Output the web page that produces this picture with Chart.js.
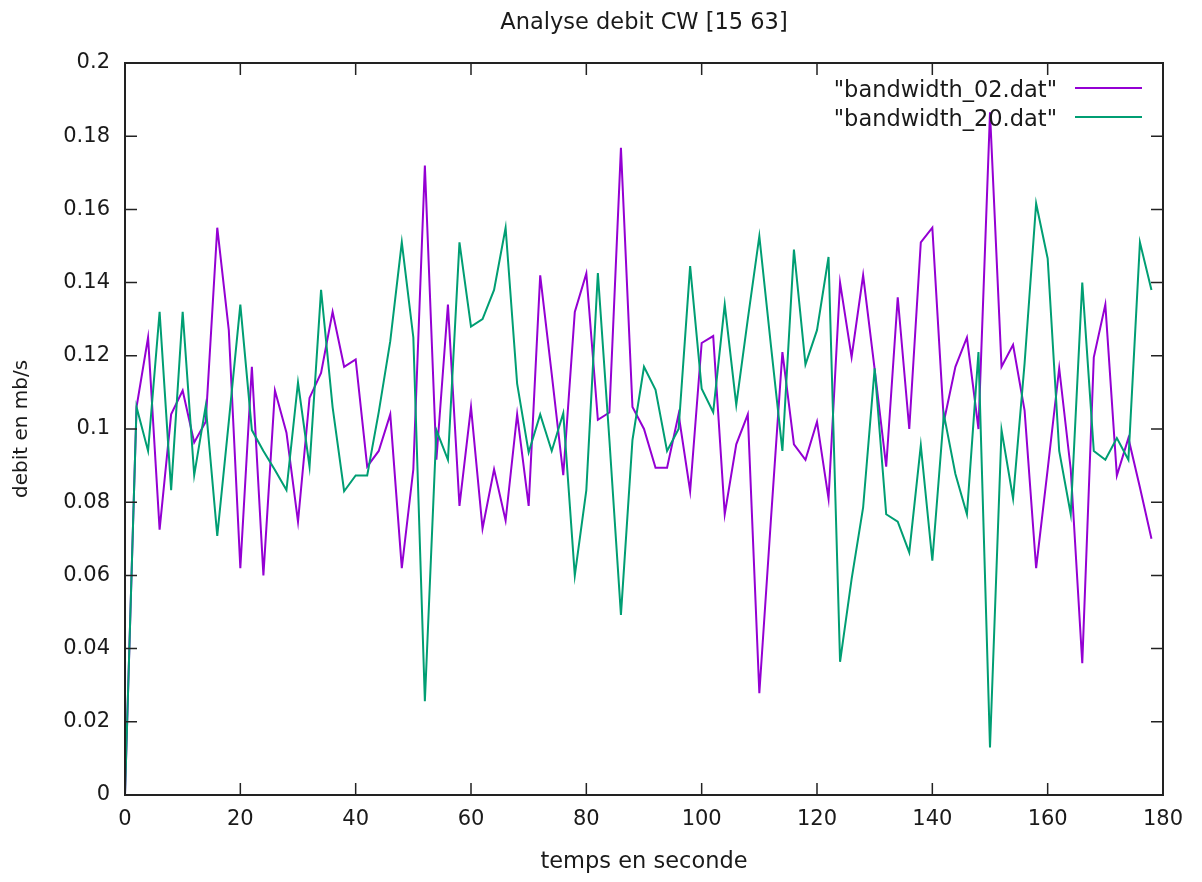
<!DOCTYPE html>
<html>
<head>
<meta charset="utf-8">
<title>Analyse debit CW [15 63]</title>
<script src="https://cdn.jsdelivr.net/npm/chart.js@4"></script>
<style>
  html, body { margin: 0; padding: 0; background: #fff; }
</style>
</head>
<body>
<canvas id="chart" width="1202" height="882"></canvas>
<script>
const chartTitle = 'Analyse debit CW [15 63]';
const xTitle = 'temps en seconde';
const yTitle = 'debit en mb/s';
const seriesNames = ['"bandwidth_02.dat"', '"bandwidth_20.dat"'];
const seriesColors = ['#9400d3', '#009e73'];

// seconds
const timeSec = [
    0, 2, 4, 6, 8, 10, 12, 14, 16, 18,
    20, 22, 24, 26, 28, 30, 32, 34, 36, 38,
    40, 42, 44, 46, 48, 50, 52, 54, 56, 58,
    60, 62, 64, 66, 68, 70, 72, 74, 76, 78,
    80, 82, 84, 86, 88, 90, 92, 94, 96, 98,
    100, 102, 104, 106, 108, 110, 112, 114, 116, 118,
    120, 122, 124, 126, 128, 130, 132, 134, 136, 138,
    140, 142, 144, 146, 148, 150, 152, 154, 156, 158,
    160, 162, 164, 166, 168, 170, 172, 174, 176, 178
];

// mb/s
const bandwidth02 = [
    0, 0.106, 0.125, 0.0725, 0.104, 0.1105, 0.0963, 0.102, 0.155, 0.127,
    0.062, 0.117, 0.060, 0.1105, 0.099, 0.0747, 0.1085, 0.1153, 0.132, 0.117,
    0.119, 0.0897, 0.094, 0.104, 0.062, 0.089, 0.172, 0.0916, 0.134, 0.079,
    0.106, 0.0728, 0.089, 0.075, 0.104, 0.079, 0.142, 0.115, 0.0874, 0.132,
    0.1425, 0.1025, 0.1045, 0.1768, 0.106, 0.100, 0.0894, 0.0894, 0.104, 0.083,
    0.1235, 0.1254, 0.0767, 0.0958, 0.104, 0.0278, 0.075, 0.121, 0.0958, 0.0916,
    0.102, 0.081, 0.140, 0.1196, 0.142, 0.1163, 0.0897, 0.136, 0.100, 0.151,
    0.155, 0.102, 0.117, 0.125, 0.100, 0.1865, 0.117, 0.123, 0.105, 0.062,
    0.089, 0.1166, 0.089, 0.036, 0.1196, 0.134, 0.0873, 0.0975, 0.084, 0.070
];

const bandwidth20 = [
    0, 0.106, 0.094, 0.132, 0.0833, 0.132, 0.0874, 0.1063, 0.0708, 0.102,
    0.134, 0.0997, 0.094, 0.0888, 0.0833, 0.1127, 0.0897, 0.138, 0.106, 0.083,
    0.0873, 0.0873, 0.1046, 0.124, 0.151, 0.125, 0.0256, 0.0997, 0.0916, 0.151,
    0.128, 0.130, 0.138, 0.155, 0.1124, 0.0936, 0.104, 0.094, 0.1043, 0.060,
    0.0833, 0.1426, 0.097, 0.0492, 0.097, 0.117, 0.1107, 0.094, 0.100, 0.1445,
    0.111, 0.1046, 0.134, 0.1066, 0.130, 0.1527, 0.123, 0.094, 0.149, 0.1176,
    0.127, 0.147, 0.0364, 0.059, 0.0786, 0.1166, 0.0767, 0.0747, 0.0663, 0.0955,
    0.064, 0.104, 0.0877, 0.0767, 0.121, 0.013, 0.0997, 0.081, 0.118, 0.1616,
    0.1466, 0.094, 0.0767, 0.140, 0.094, 0.0916, 0.0975, 0.0916, 0.151, 0.138
];

const TEXT = '#1a1a1a';
const FONT = "'DejaVu Sans', sans-serif";

Chart.defaults.font.family = FONT;
Chart.defaults.font.size = 21;
Chart.defaults.color = TEXT;

const toPoints = vals => timeSec.map((t, i) => ({ x: t, y: vals[i] }));

// gnuplot look: frame, inward ticks on all four sides, title, legend in the top right
const gnuplotFrame = {
    id: 'gnuplotFrame',
    afterDatasetsDraw(chart) {
        const { ctx, chartArea: a, scales: { x, y } } = chart;
        ctx.save();
        ctx.strokeStyle = '#222';
        ctx.lineWidth = 1.5;
        ctx.beginPath();
        y.ticks.forEach(t => {
            const py = y.getPixelForValue(t.value);
            ctx.moveTo(a.left, py); ctx.lineTo(a.left + 12, py);
            ctx.moveTo(a.right, py); ctx.lineTo(a.right - 12, py);
        });
        x.ticks.forEach(t => {
            const px = x.getPixelForValue(t.value);
            ctx.moveTo(px, a.bottom); ctx.lineTo(px, a.bottom - 12);
            ctx.moveTo(px, a.top); ctx.lineTo(px, a.top + 12);
        });
        ctx.stroke();
        ctx.lineWidth = 2;
        ctx.strokeRect(a.left, a.top, a.right - a.left, a.bottom - a.top);

        ctx.fillStyle = TEXT;
        ctx.font = '22.5px ' + FONT;
        ctx.textAlign = 'center';
        ctx.textBaseline = 'middle';
        ctx.fillText(chartTitle, (a.left + a.right) / 2, 23);

        ctx.textAlign = 'right';
        chart.data.datasets.forEach((ds, i) => {
            const ly = a.top + 25 + i * 29;
            ctx.fillStyle = TEXT;
            ctx.fillText(ds.label, a.right - 106, ly + 3);
            ctx.strokeStyle = ds.borderColor;
            ctx.lineWidth = 2;
            ctx.beginPath();
            ctx.moveTo(a.right - 88, ly);
            ctx.lineTo(a.right - 21, ly);
            ctx.stroke();
        });
        ctx.restore();
    }
};

new Chart(document.getElementById('chart'), {
    type: 'line',
    data: {
        datasets: [
            { label: seriesNames[0], data: toPoints(bandwidth02), borderColor: seriesColors[0], order: 1 },
            { label: seriesNames[1], data: toPoints(bandwidth20), borderColor: seriesColors[1], order: 0 }
        ]
    },
    options: {
        responsive: false,
        animation: false,
        layout: { padding: { top: 63, right: 39, left: 0, bottom: 0 } },
        elements: {
            line: { borderWidth: 2, tension: 0, fill: false },
            point: { radius: 0, hoverRadius: 0 }
        },
        datasets: { line: { clip: 4 } },
        plugins: {
            legend: { display: false },
            title: { display: false },
            tooltip: { enabled: false }
        },
        scales: {
            x: {
                type: 'linear',
                min: 0, max: 180,
                afterFit: s => { s.height = 87; },
                grid: { display: false, drawTicks: false },
                border: { display: false },
                ticks: { stepSize: 20, padding: 12, maxRotation: 0 },
                title: { display: true, text: xTitle, font: { size: 22.5 }, padding: { top: 0, bottom: 6 } }
            },
            y: {
                min: 0, max: 0.2,
                afterFit: s => { s.width = 125; },
                grid: { display: false, drawTicks: false },
                border: { display: false },
                ticks: {
                    stepSize: 0.02,
                    padding: 15,
                    callback: v => String(parseFloat(v.toFixed(2)))
                },
                title: { display: true, text: yTitle, font: { size: 20 }, padding: { top: 10, bottom: 0 } }
            }
        }
    },
    plugins: [gnuplotFrame]
});
</script>
</body>
</html>
